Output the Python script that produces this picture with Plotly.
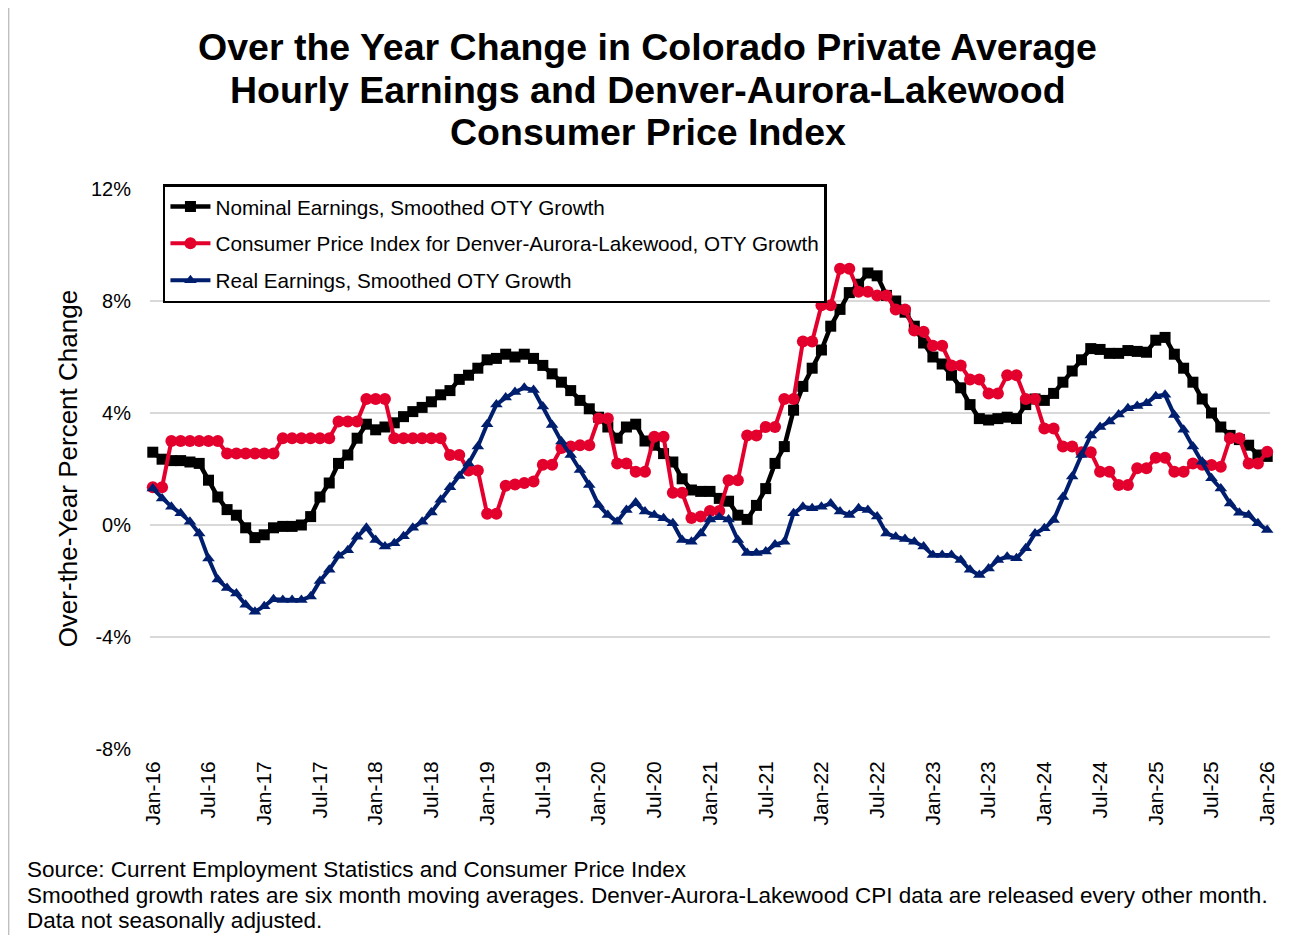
import plotly.graph_objects as go
import pandas as pd

# ---- data ----
months = [d.strftime("%b-%y") for d in pd.date_range("2016-01-01", "2026-01-01", freq="MS")]
tick_labels = ["Jan-16", "Jul-16", "Jan-17", "Jul-17", "Jan-18", "Jul-18", "Jan-19", "Jul-19",
               "Jan-20", "Jul-20", "Jan-21", "Jul-21", "Jan-22", "Jul-22", "Jan-23", "Jul-23",
               "Jan-24", "Jul-24", "Jan-25", "Jul-25", "Jan-26"]
y_tick_vals = [-8, -4, 0, 4, 8, 12]
y_tick_text = ["-8%", "-4%", "0%", "4%", "8%", "12%"]

nominal = [
    2.6, 2.35, 2.3, 2.3, 2.25, 2.2, 1.6, 1.0, 0.55, 0.35, -0.1, -0.45,
    -0.35, -0.1, -0.05, -0.05, 0.0, 0.3, 1.0, 1.5, 2.2, 2.5, 3.1, 3.6,
    3.4, 3.5, 3.65, 3.87, 4.05, 4.2, 4.4, 4.65, 4.8, 5.2, 5.35, 5.6,
    5.9, 5.95, 6.1, 6.0, 6.1, 5.95, 5.7, 5.4, 5.1, 4.8, 4.45, 4.15,
    3.85, 3.5, 3.1, 3.5, 3.6, 3.0, 2.85, 2.55, 2.25, 1.65, 1.25, 1.2,
    1.2, 0.95, 0.85, 0.35, 0.2, 0.7, 1.3, 2.2, 2.8, 4.1, 4.95, 5.6,
    6.25, 7.1, 7.7, 8.3, 8.6, 9.0, 8.9, 8.2, 8.0, 7.6, 7.1, 6.5,
    6.0, 5.75, 5.35, 4.9, 4.3, 3.8, 3.75, 3.8, 3.85, 3.8, 4.3, 4.5,
    4.45, 4.7, 5.1, 5.5, 5.9, 6.3, 6.27, 6.13, 6.13, 6.23, 6.2, 6.17,
    6.6, 6.7, 6.1, 5.6, 5.1, 4.5, 4.0, 3.5, 3.2, 3.05, 2.85, 2.5,
    2.45,
]

cpi = [
    1.35, 1.35, 3.0, 3.0, 3.0, 3.0, 3.0, 3.0, 2.55, 2.55, 2.55, 2.55,
    2.55, 2.55, 3.1, 3.1, 3.1, 3.1, 3.1, 3.1, 3.7, 3.7, 3.7, 4.5,
    4.5, 4.5, 3.1, 3.1, 3.1, 3.1, 3.1, 3.1, 2.5, 2.5, 1.95, 1.95,
    0.4, 0.4, 1.4, 1.45, 1.5, 1.55, 2.15, 2.15, 2.75, 2.8, 2.85, 2.85,
    3.8, 3.8, 2.2, 2.2, 1.9, 1.9, 3.15, 3.15, 1.15, 1.15, 0.25, 0.3,
    0.5, 0.5, 1.6, 1.6, 3.2, 3.2, 3.5, 3.5, 4.5, 4.5, 6.55, 6.55,
    7.85, 7.85, 9.15, 9.15, 8.33, 8.33, 8.2, 8.2, 7.7, 7.7, 6.95, 6.9,
    6.4, 6.4, 5.7, 5.7, 5.2, 5.2, 4.7, 4.7, 5.35, 5.35, 4.5, 4.5,
    3.45, 3.45, 2.8, 2.8, 2.6, 2.6, 1.9, 1.9, 1.43, 1.43, 2.03, 2.03,
    2.4, 2.4, 1.9, 1.9, 2.2, 2.15, 2.14, 2.08, 3.1, 3.1, 2.2, 2.2,
    2.62,
]

real = [
    1.3, 0.95, 0.65, 0.42, 0.12, -0.3, -1.2, -1.95, -2.25, -2.45, -2.85, -3.1,
    -2.9, -2.65, -2.68, -2.68, -2.68, -2.55, -2.0, -1.6, -1.1, -0.9, -0.42, -0.1,
    -0.54, -0.77, -0.65, -0.4, -0.1, 0.12, 0.45, 0.9, 1.35, 1.75, 2.2, 2.8,
    3.6, 4.3, 4.55, 4.75, 4.9, 4.82, 4.23, 3.57, 2.98, 2.5, 1.96, 1.43,
    0.71, 0.36, 0.12, 0.54, 0.8, 0.48, 0.36, 0.24, 0.06, -0.54, -0.6, -0.3,
    0.2, 0.28, 0.2, -0.54, -1.0, -1.0, -0.95, -0.7, -0.6, 0.42, 0.65, 0.6,
    0.65, 0.77, 0.48, 0.36, 0.6, 0.54, 0.3, -0.3, -0.42, -0.5, -0.6, -0.77,
    -1.07, -1.07, -1.07, -1.25, -1.6, -1.79, -1.55, -1.25, -1.13, -1.19, -0.83, -0.3,
    -0.12, 0.18, 1.0, 1.73, 2.5, 3.2, 3.5, 3.7, 3.95, 4.17, 4.25, 4.35,
    4.6, 4.65, 3.93, 3.4, 2.8, 2.26, 1.67, 1.3, 0.77, 0.44, 0.36, 0.06,
    -0.18,
]

title_lines = ["Over the Year Change in Colorado Private Average",
               "Hourly Earnings and Denver-Aurora-Lakewood",
               "Consumer Price Index"]
note_lines = ["Source: Current Employment Statistics and Consumer Price Index",
              "Smoothed growth rates are six month moving averages. Denver-Aurora-Lakewood CPI data are released every other month.",
              "Data not seasonally adjusted."]

# ---- layout geometry (figure pixels; page has an 8px body margin) ----
OFF = 8
W, H = 1282, 927
L, R, T, B = 142, 15, 181, 186
PW, PH = W - L - R, H - T - B


def px(page_x):
    return (page_x - OFF - L) / PW


def py(page_y):
    return 1 - (page_y - OFF - T) / PH


FONT = "Liberation Sans, Arial, sans-serif"
BLACK = "#000000"
RED = "#E3002D"
NAVY = "#001E6E"

fig = go.Figure()
fig.add_trace(go.Scatter(
    x=months, y=nominal, name="Nominal Earnings, Smoothed OTY Growth",
    mode="lines+markers", legendgroup="a",
    line=dict(color=BLACK, width=4.5), marker=dict(symbol="square", size=11, color=BLACK),
    cliponaxis=False))
fig.add_trace(go.Scatter(
    x=months, y=cpi, name="Consumer Price Index for Denver-Aurora-Lakewood, OTY Growth",
    mode="lines+markers", legendgroup="b",
    line=dict(color=RED, width=4), marker=dict(symbol="circle", size=12, color=RED),
    cliponaxis=False))
fig.add_trace(go.Scatter(
    x=months, y=real, name="Real Earnings, Smoothed OTY Growth",
    mode="lines+markers", legendgroup="c",
    line=dict(color=NAVY, width=4), marker=dict(symbol="triangle-up", size=11, color=NAVY),
    cliponaxis=False))

annotations = []
for txt, yc in zip(title_lines, [47, 90, 132]):
    annotations.append(dict(text="<b>%s</b>" % txt, x=px(650), y=py(yc), xref="paper", yref="paper",
                            xanchor="center", yanchor="middle", showarrow=False,
                            font=dict(family=FONT, size=37.5, color="#000000")))
for txt, yc in zip(note_lines, [869, 895, 920]):
    annotations.append(dict(text=txt, x=px(24), y=py(yc), xref="paper", yref="paper",
                            xanchor="left", yanchor="middle", showarrow=False,
                            font=dict(family=FONT, size=22.5, color="#000000")))
annotations.append(dict(text="Over-the-Year Percent Change", x=px(68), y=py(469),
                        xref="paper", yref="paper", xanchor="center", yanchor="middle",
                        textangle=-90, showarrow=False,
                        font=dict(family=FONT, size=26, color="#000000")))

fig.update_layout(
    width=W, height=H,
    margin=dict(l=L, r=R, t=T, b=B),
    paper_bgcolor="white", plot_bgcolor="white",
    font=dict(family=FONT, color="#000000"),
    showlegend=True,
    legend=dict(x=px(163), y=py(184), xanchor="left", yanchor="top",
                bgcolor="white", bordercolor="#000000", borderwidth=2.5,
                font=dict(family=FONT, size=20.7, color="#000000"),
                tracegroupgap=7, itemwidth=40),
    annotations=annotations,
    shapes=[dict(type="line", xref="paper", yref="paper", x0=px(8), x1=px(8),
                 y0=py(0), y1=py(940), line=dict(color="#BFBFBF", width=1.5))],
)

fig.update_xaxes(
    type="category", categoryorder="array", categoryarray=months,
    range=[-0.3, len(months) - 1 + 0.3],
    tickmode="array", tickvals=tick_labels, ticktext=tick_labels,
    tickangle=-90, tickfont=dict(family=FONT, size=21, color="#000000"),
    showgrid=False, zeroline=False, showline=False, ticks="",
    ticklabelstandoff=7,
)
fig.update_yaxes(
    range=[-8, 12], tickmode="array", tickvals=y_tick_vals, ticktext=y_tick_text,
    tickfont=dict(family=FONT, size=20, color="#000000"),
    showgrid=True, gridcolor="#D9D9D9", gridwidth=2,
    zeroline=False, showline=False, ticks="",
    ticklabelstandoff=18,
)

fig.write_html("out.html")
